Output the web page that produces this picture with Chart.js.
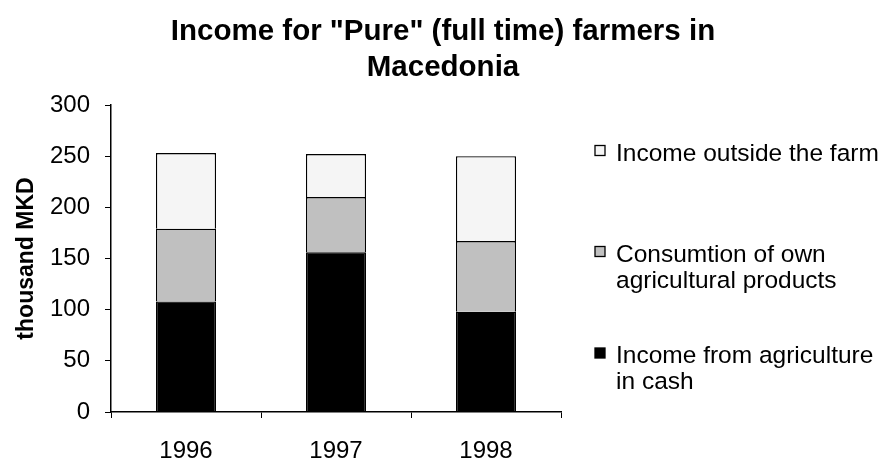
<!DOCTYPE html>
<html>
<head>
<meta charset="utf-8">
<script src="https://cdn.jsdelivr.net/npm/chart.js@4.4.0/dist/chart.umd.min.js"></script>
<style>
  body{margin:0;background:#fff;}
  #wrap{width:884px;height:460px;position:relative;}
</style>
</head>
<body>
<div id="wrap"><canvas id="chart"></canvas></div>
<script>
var years = ['1996','1997','1998'];
var cashIncome = [108, 156, 98];
var ownConsumption = [71, 54, 69];
var outsideIncome = [74, 42, 83];
var seriesNames = [
  ['Income from agriculture', 'in cash'],
  ['Consumtion of own', 'agricultural products'],
  ['Income outside the farm']
];
var titleLines = ['Income for "Pure" (full time) farmers in', 'Macedonia'];

var FONT = '"Liberation Sans", Arial, sans-serif';

// legend drawn by hand so the labels can wrap like the original
var sideLegend = {
  id: 'sideLegend',
  afterDraw: function(chart){
    var ctx = chart.ctx;
    var rows = [{ds:2, y:160.5}, {ds:1, y:261.5}, {ds:0, y:363}];
    ctx.save();
    ctx.font = '24.5px ' + FONT;
    ctx.textBaseline = 'alphabetic';
    rows.forEach(function(r){
      var ds = chart.data.datasets[r.ds];
      ctx.fillStyle = ds.backgroundColor;
      ctx.fillRect(595, r.y - 15, 10, 10);
      ctx.strokeStyle = '#000';
      ctx.lineWidth = 1.3;
      ctx.strokeRect(595, r.y - 15, 10, 10);
      ctx.fillStyle = '#000';
      seriesNames[r.ds].forEach(function(line, i){
        ctx.fillText(line, 616, r.y + i * 26);
      });
    });
    ctx.restore();
  }
};

var titleDraw = {
  id: 'titleDraw',
  afterDraw: function(chart){
    var ctx = chart.ctx;
    ctx.save();
    ctx.font = 'bold 29.5px ' + FONT;
    ctx.fillStyle = '#000';
    ctx.textAlign = 'center';
    ctx.textBaseline = 'alphabetic';
    ctx.fillText(titleLines[0], 443, 40);
    ctx.fillText(titleLines[1], 443, 76);
    ctx.restore();
  }
};

new Chart(document.getElementById('chart'), {
  type: 'bar',
  data: {
    labels: years,
    datasets: [
      {label: seriesNames[0].join(' '), data: cashIncome, backgroundColor: '#000000', borderColor: '#000', borderWidth: 1.3},
      {label: seriesNames[1].join(' '), data: ownConsumption, backgroundColor: '#c0c0c0', borderColor: '#000', borderWidth: 1.3},
      {label: seriesNames[2].join(' '), data: outsideIncome, backgroundColor: '#f5f5f5', borderColor: '#000', borderWidth: 1.3}
    ]
  },
  options: {
    responsive: true,
    maintainAspectRatio: false,
    animation: false,
    layout: {padding: {top: 105, right: 323, left: 0, bottom: 0}},
    plugins: {
      legend: {display: false},
      title: {display: false},
      tooltip: {enabled: false}
    },
    datasets: {bar: {barPercentage: 0.4, categoryPercentage: 1.0}},
    scales: {
      x: {
        stacked: true,
        grid: {display: true, drawOnChartArea: false, color: '#000', tickLength: 6, offset: true},
        border: {color: '#000', width: 1.5},
        ticks: {color: '#000', font: {family: FONT, size: 24}, padding: 19},
        afterFit: function(s){ s.height = 48; }
      },
      y: {
        stacked: true,
        min: 0, max: 300,
        grid: {display: true, drawOnChartArea: false, color: '#000', tickLength: 6},
        border: {color: '#000', width: 1.5},
        ticks: {stepSize: 50, color: '#000', font: {family: FONT, size: 24}, padding: 15},
        title: {display: true, text: 'thousand MKD', color: '#000', font: {family: FONT, size: 23, weight: 'bold'}, padding: {top: 13, bottom: 0}},
        afterFit: function(s){ s.width = 111; }
      }
    }
  },
  plugins: [sideLegend, titleDraw]
});
</script>
</body>
</html>
